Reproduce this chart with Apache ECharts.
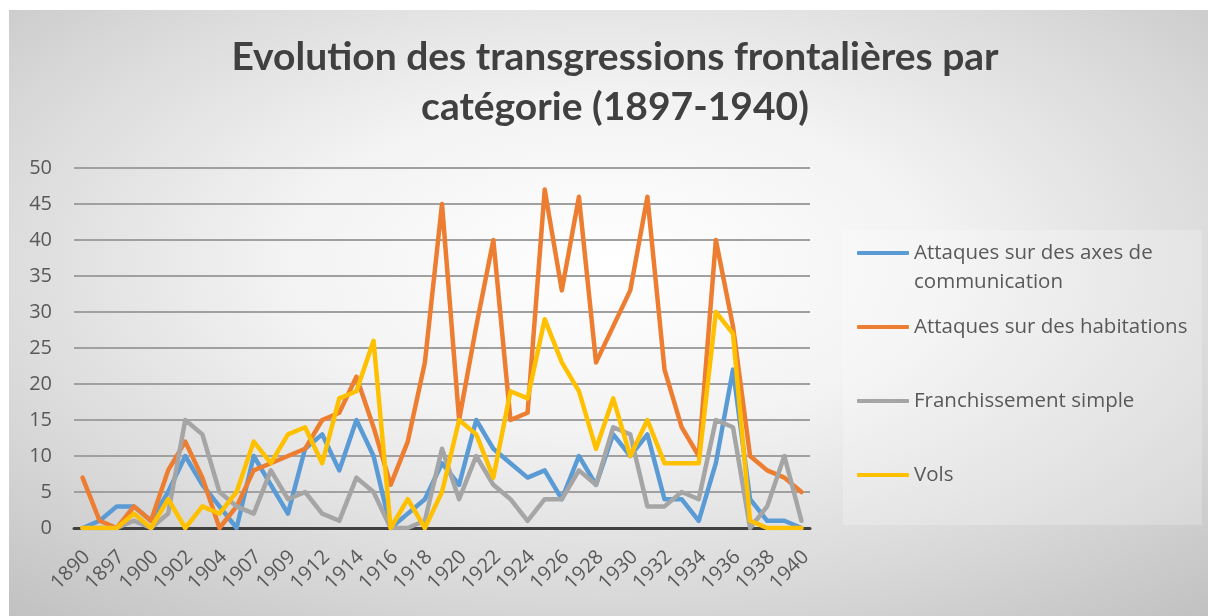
<!DOCTYPE html>
<html>
<head>
<meta charset="utf-8">
<script src="https://cdn.jsdelivr.net/npm/echarts@6/dist/echarts.min.js"></script>
<style>html,body{margin:0;padding:0;background:#fff}#c{width:1208px;height:616px}</style>
</head>
<body>
<div id="c"></div>
<script>
var years = ['1890','1895','1897','1898','1900','1901','1902','1903','1904','1905','1907','1908','1909','1910','1912','1913','1914','1915','1916','1917','1918','1919','1920','1921','1922','1923','1924','1925','1926','1927','1928','1929','1930','1931','1932','1933','1934','1935','1936','1937','1938','1939','1940'];
var seriesNames = ['Attaques sur des axes de communication','Attaques sur des habitations','Franchissement simple','Vols'];
var legendLabels = [' \nAttaques sur des axes de\ncommunication','Attaques sur des habitations','Franchissement simple','Vols'];
var axes = [0,1,3,3,1,5,10,6,3,0,10,6,2,11,13,8,15,10,0,2,4,9,6,15,11,9,7,8,4,10,6,13,10,13,4,4,1,9,22,4,1,1,0];
var habitations = [7,1,0,3,1,8,12,7,0,3,8,9,10,11,15,16,21,14,6,12,23,45,15,28,40,15,16,47,33,46,23,28,33,46,22,14,10,40,28,10,8,7,5];
var franchissement = [0,0,0,1,0,2,15,13,5,3,2,8,4,5,2,1,7,5,0,0,1,11,4,10,6,4,1,4,4,8,6,14,13,3,3,5,4,15,14,0,3,10,1];
var vols = [0,0,0,2,0,4,0,3,2,5,12,9,13,14,9,18,19,26,0,4,0,5,15,13,7,19,18,29,23,19,11,18,10,15,9,9,9,30,27,1,0,0,0];
var colors = ['#5B9BD5','#ED7D31','#A5A5A5','#FFC000'];
var allData = [axes, habitations, franchissement, vols];

var chart = echarts.init(document.getElementById('c'), null, {renderer:'canvas'});
var legendTops = [209.5, 312.5, 386.5, 460.5];
var legends = seriesNames.map(function(n, i){
  return {
    left: 857, top: legendTops[i], orient: 'vertical', padding: 0,
    itemWidth: 52, itemHeight: 4, icon: 'roundRect', selectedMode: false,
    data: [n],
    formatter: function(){ return legendLabels[i]; },
    textStyle: {fontFamily: 'Open Sans', fontSize: 20.5, color: '#595959', lineHeight: 29}
  };
});
var option = {
  animation: false,
  backgroundColor: '#ffffff',
  graphic: [
    {type:'rect', x: 9, y: 10, scaleX: 1199/616, z: -100, silent: true,
     shape: {x:0, y:0, width:616, height:606},
     style: {fill: {type:'radial', x:0.5, y:0.42, r:0.78, colorStops:[
        {offset:0, color:'#ffffff'},{offset:0.35, color:'#f3f3f3'},{offset:0.7, color:'#d9d9d9'},{offset:1, color:'#c0c0c0'}]}}},
    {type:'rect', z: -90, silent: true, shape:{x:843, y:230, width:359, height:295},
     style:{fill:'rgba(255,255,255,0.22)'}}
  ],
  title: {
    text: 'Evolution des transgressions frontalières par\ncatégorie (1897-1940)',
    left: 615, top: 32, textAlign: 'center', padding: 0,
    textStyle: {fontFamily: 'Lato', fontWeight: 'bold', fontSize: 39, color: '#404040', lineHeight: 50}
  },
  legend: legends,
  grid: {left: 74, top: 168, width: 736, height: 360, containLabel: false},
  xAxis: {
    type: 'category', data: years, boundaryGap: true,
    axisLine: {lineStyle: {color: '#404040', width: 3}},
    axisTick: {show: false},
    axisLabel: {interval: 1, rotate: 45, margin: 30, padding: [0, -6, 0, 0], fontFamily: 'Open Sans', fontSize: 20, color: '#595959'}
  },
  yAxis: {
    type: 'value', min: 0, max: 50, interval: 5,
    axisLine: {show: false}, axisTick: {show: false},
    splitLine: {lineStyle: {color: '#a0a0a0', width: 2}},
    axisLabel: {margin: 22, fontFamily: 'Open Sans', fontSize: 20, color: '#595959'}
  },
  series: seriesNames.map(function(n, i){
    return {name: n, type: 'line', data: allData[i], symbol: 'none', color: colors[i],
      lineStyle: {width: 4.5, color: colors[i], cap: 'round', join: 'round'}, z: 2 + i};
  })
};
chart.setOption(option);
</script>
</body>
</html>
